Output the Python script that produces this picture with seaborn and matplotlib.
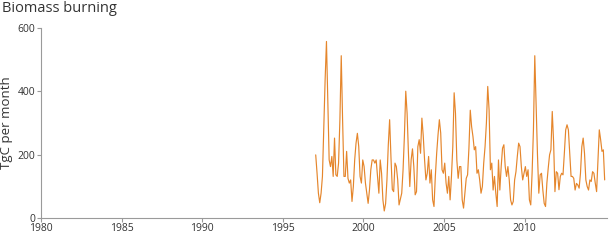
import numpy as np
import pandas as pd
import matplotlib
matplotlib.use("Agg")
import matplotlib.pyplot as plt
import seaborn as sns

# Monthly biomass burning emissions (TgC per month), Jan 1997 - Dec 2014
start_year = 1997
emissions = [
    199, 141, 78, 48, 78, 131, 278, 436, 557, 362, 183, 162,
    194, 131, 252, 136, 131, 173, 310, 512, 310, 131, 131, 210,
    125, 110, 120, 52, 99, 183, 236, 267, 226, 131, 110, 183,
    162, 110, 78, 46, 88, 152, 183, 183, 173, 183, 131, 78,
    183, 141, 57, 22, 45, 120, 230, 310, 190, 90, 83, 173,
    162, 120, 41, 60, 78, 152, 260, 400, 330, 204, 99, 183,
    218, 162, 73, 83, 225, 247, 204, 315, 260, 183, 120, 141,
    194, 110, 152, 57, 36, 131, 204, 262, 310, 268, 152, 141,
    173, 110, 78, 131, 57, 131, 225, 395, 330, 183, 125, 162,
    162, 57, 31, 78, 125, 136, 220, 340, 288, 257, 215, 225,
    141, 152, 120, 78, 99, 173, 225, 299, 415, 341, 152, 173,
    88, 131, 78, 36, 183, 88, 162, 220, 231, 162, 131, 162,
    120, 57, 41, 52, 120, 146, 194, 236, 225, 162, 120, 141,
    162, 131, 152, 57, 41, 141, 278, 512, 360, 200, 78, 136,
    141, 88, 46, 36, 110, 157, 199, 215, 336, 240, 83, 146,
    141, 89, 131, 141, 136, 204, 278, 294, 278, 204, 131, 131,
    125, 88, 109, 104, 94, 141, 225, 252, 204, 120, 99, 88,
    120, 115, 146, 141, 110, 83, 183, 278, 247, 210, 215, 120,
]
x_ticks = [1980, 1985, 1990, 1995, 2000, 2005, 2010]
y_ticks = [0, 200, 400, 600]

df = pd.DataFrame({
    "year": [start_year + (i + 0.5) / 12 for i in range(len(emissions))],
    "value": emissions,
})

sns.set_theme(style="white")
plt.rcParams["font.family"] = ["Open Sans", "DejaVu Sans"]

fig = plt.figure(figsize=(6.1, 2.4), dpi=100)
ax = fig.add_axes([0.067, 0.092, 0.928, 0.792])

sns.lineplot(data=df, x="year", y="value", ax=ax, color="#E5862C", linewidth=0.85)

ax.set_xlim(1980, 2015.1)
ax.set_ylim(0, 600)
ax.set_xticks(x_ticks)
ax.set_yticks(y_ticks)
ax.set_xlabel("")
ax.set_ylabel("TgC per month", fontsize=9.5, color="#333333", labelpad=3)

for side in ["top", "right"]:
    ax.spines[side].set_visible(False)
for side in ["left", "bottom"]:
    ax.spines[side].set_color("#9a9a9a")
    ax.spines[side].set_linewidth(0.8)

ax.tick_params(axis="both", which="major", length=3, width=0.8, color="#9a9a9a",
               labelsize=7.5, labelcolor="#333333", pad=1, bottom=True, left=True)

fig.text(0.003, 0.995, "Biomass burning", ha="left", va="top", fontsize=10.5, color="#333333")

fig.savefig("out.png", dpi=100)
